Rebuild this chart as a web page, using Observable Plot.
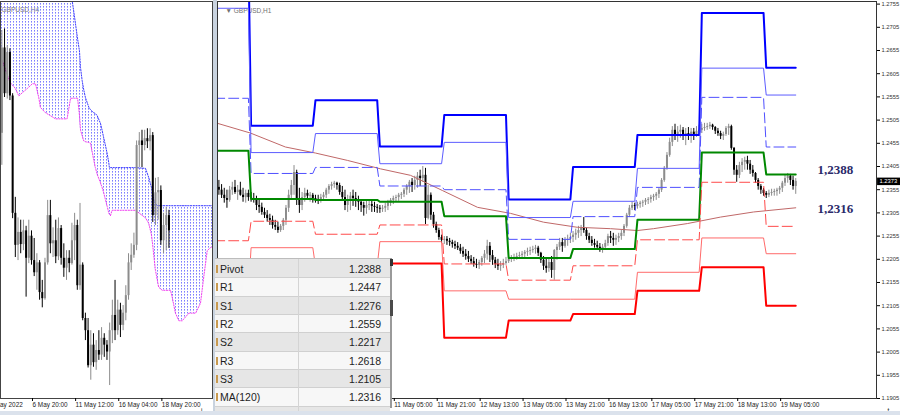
<!DOCTYPE html>
<html><head><meta charset="utf-8">
<script src="https://cdn.jsdelivr.net/npm/d3@7"></script>
<script src="https://cdn.jsdelivr.net/npm/@observablehq/plot@0.6"></script>
<style>
html,body{margin:0;padding:0;background:#fff;}
#wrap{position:relative;width:900px;height:415px;overflow:hidden;font-family:"Liberation Sans",Arial,sans-serif;}
#band{position:absolute;left:213px;top:0;width:4px;height:415px;background:#c9d3df;}
#strip{position:absolute;left:0;top:411px;width:900px;height:4px;background:#dbe2ec;}
#left{position:absolute;left:0;top:0;width:213px;height:415px;}
#right{position:absolute;left:213px;top:0;width:687px;height:415px;}
#tbl{position:absolute;left:215px;top:258px;width:175px;height:157px;background:#e6e6e6;border-top:1px solid #bcbcbc;}
.row{position:absolute;left:0;width:175px;height:18.3px;box-sizing:border-box;border-bottom:1px solid #d0d0d0;font-size:10.5px;color:#1e1e1e;line-height:18px;}
.nm{position:absolute;left:5px;top:0;}
.vl{position:absolute;right:9px;top:0;}
.mk{position:absolute;left:1px;top:5px;width:1.5px;height:8px;background:#c89a50;}
#csep{position:absolute;left:83px;top:0;width:1px;height:157px;background:#d4d4d4;}
#sbar{position:absolute;left:390px;top:258px;width:2px;height:150px;background:#9a9a9a;}
#sthumb{position:absolute;left:390px;top:300px;width:2.5px;height:16px;background:#4a4a4a;}
#stop{position:absolute;left:390px;top:259px;width:3px;height:7px;background:#333;}
</style></head>
<body><div id="wrap"><div id="band"></div><div id="left"></div><div id="right"></div><div id="tbl"></div><div id="sbar"></div><div id="sthumb"></div><div id="stop"></div><div id="strip"></div></div>
<script>
// ---------- H1 pivot levels (daily) ----------
const dayStart = [0,24,48,72,96,120,144,168,192,216];
const dayEnd   = [23,47,71,95,119,143,167,191,215,227];
const R3 = [1.2860,1.2493,1.2548,1.2448,1.2516,1.2334,1.2404,1.2473,1.2736,1.2618];
const R2 = [1.2746,1.2435,1.2476,1.2411,1.2457,1.2295,1.2330,1.2401,1.2617,1.2559];
const R1 = [1.2552,1.2390,1.2403,1.2363,1.2355,1.2248,1.2297,1.2360,1.2554,1.2447];
const PP = [1.2439,1.2335,1.2333,1.2329,1.2298,1.2208,1.2227,1.2290,1.2435,1.2388];
const S1 = [1.2245,1.2287,1.2259,1.2279,1.2195,1.2160,1.2191,1.2247,1.2371,1.2276];
const S2 = [1.2132,1.2230,1.2190,1.2243,1.2137,1.2119,1.2119,1.2177,1.2251,1.2217];
const S3 = [1.1940,1.2187,1.2116,1.2196,1.2036,1.2073,1.2087,1.2137,1.2188,1.2105];
// MA(120)
const maT = [11.5,23.8,36.8,48,60,72.2,83.4,95.4,108.4,120.7,133,145.6,158,168,174,186.6,199,211.3,227];
const maV = [1.2498,1.2477,1.2447,1.2434,1.2418,1.2400,1.2386,1.2353,1.2317,1.2304,1.2285,1.2274,1.2271,1.2267,1.2271,1.2282,1.2296,1.2307,1.2316];
// H1 candles, pips above 1.2000, hours from 6 May 00:00 (trading hours)
const h1Start = 12, h1Open0 = 360;
const h1High = [375,366,358,354,362,371,375,364,371,358,354,354,
349,347,341,336,326,315,310,302,298,289,285,280,
293,321,354,375,407,397,358,349,358,354,349,347,
343,343,345,349,358,366,371,373,371,369,362,354,
343,349,354,349,341,332,328,332,332,330,328,323,
321,321,326,332,336,341,343,347,349,358,366,375,
379,384,392,397,405,401,364,348,306,285,272,257,
254,254,250,246,244,241,237,231,226,222,213,209,
205,203,211,224,246,241,224,209,205,200,205,209,
211,213,216,218,220,222,224,229,231,233,235,233,
220,211,205,207,211,226,237,250,250,252,257,261,
265,270,276,278,295,272,261,254,248,244,239,237,
246,259,265,261,257,261,267,280,304,321,328,326,
328,330,332,336,338,343,345,349,358,379,405,435,
466,491,496,491,494,489,487,489,487,487,491,494,
496,498,498,500,496,491,487,481,479,491,496,494,
446,407,414,422,425,427,418,407,392,379,366,358,
351,354,356,356,358,362,373,386,390,388,384,379];
const h1Low = [343,336,326,315,328,343,345,332,341,328,326,330,
328,326,310,304,300,293,285,278,270,267,261,263,
267,278,306,332,343,321,304,310,328,332,328,326,
326,323,326,332,336,345,354,358,354,343,332,310,
306,310,319,317,310,306,298,302,310,306,306,304,
304,306,306,310,319,323,328,330,334,338,343,347,
349,354,358,362,371,280,290,289,272,261,246,239,
237,235,233,229,226,224,216,209,203,198,194,188,
185,183,190,196,203,198,192,185,181,179,185,192,
196,198,200,203,205,207,209,211,213,218,216,211,
196,181,175,177,164,160,203,224,220,229,233,239,
241,246,250,254,261,246,239,233,229,224,220,218,
224,233,239,233,235,241,246,254,272,295,310,310,
313,315,317,321,323,326,330,332,336,349,371,397,
425,448,461,457,466,461,450,461,455,461,468,470,
476,481,483,485,483,474,470,463,461,470,472,440,
386,371,379,392,397,397,388,382,369,354,345,341,
336,338,341,341,341,345,349,362,369,364,354,345];
const h1Close = [354,343,336,332,354,360,349,354,343,338,347,338,
336,332,321,317,306,300,293,289,278,274,267,276,
289,315,343,364,392,332,321,338,347,341,343,336,
334,332,338,343,354,362,366,369,364,349,338,321,
332,341,336,332,328,321,315,321,323,319,317,315,
313,315,319,326,332,336,338,343,345,354,362,371,
364,375,384,379,386,293,343,300,280,267,252,246,
248,244,241,237,233,229,222,216,211,205,200,194,
192,198,207,216,233,213,203,194,190,192,196,200,
205,207,209,211,213,216,220,222,224,226,229,218,
203,190,185,198,181,224,231,241,233,246,248,252,
257,261,267,272,267,254,246,239,235,231,226,231,
239,254,250,246,250,254,261,276,300,315,321,319,
323,326,328,332,334,338,341,345,354,375,401,429,
457,483,472,479,483,472,476,472,479,474,481,483,
487,489,491,494,489,481,476,470,474,487,491,444,
397,386,407,414,418,410,397,390,375,362,354,347,
343,347,349,351,354,358,369,379,384,375,362,373];
const lastPrice = 1.2373;
const yTicks = [1.1905,1.1955,1.2005,1.2055,1.2105,1.2155,1.2205,1.2255,1.2305,1.2355,1.2405,1.2455,1.2505,1.2555,1.2605,1.2655,1.2705,1.2755];
const xTicksR = [77,93,109,125,141,157,173,189,205,221];
const xLabelsR = ["11 May 05:00","11 May 21:00","12 May 13:00","13 May 05:00","13 May 21:00","16 May 13:00","17 May 05:00","17 May 21:00","18 May 13:00","19 May 05:00"];

// ---------- H4 panel ----------
const h4Start = -11, h4Open0 = 491;
const h4Close = [603,543,597,540,386,344,361,345,363,327,356,
324,308,321,282,274,321,383,346,350,329,366,327,314,327,320,350,370,
291,318,248,232,186,213,190,206,200,222,213,204,232,252,232,
259,239,255,278,321,331,344,475,481,475,484,480,488,383,413,416,350,370,383,363];
const h4High = [626,628,606,602,543,407,380,377,377,369,377,
363,353,333,324,298,327,403,403,367,377,380,370,346,337,337,373,386,
377,399,321,255,248,232,228,219,232,236,228,219,242,272,298,
272,268,265,291,333,346,360,481,492,495,495,497,497,492,432,433,422,386,394,390];
const h4Low = [449,538,536,534,379,328,324,333,337,276,320,
318,303,285,272,262,272,318,333,328,320,324,318,302,298,308,318,324,
285,285,245,219,183,167,184,180,193,193,197,193,160,215,219,
226,223,232,245,272,311,327,337,446,446,468,471,468,374,370,377,344,333,337,340];
const cloudJ = [-12,-10,-8,-6,-4.7,-3.5,-1.5,0.3,1.5,2.7,3.3,5.2,7.1,8.9,13.2,14.5,15.1,16,17.1,17.8,18.2,18.8,19.4,20,21.3,21.9,23.1,23.7,24.4,25.6,26.2,26.8,27.5,28.1,28.7,28.9,29.3,29.9,38.6,42.3,43.5,44.5,44.8,45.4,46,46.6,47.2,48.5,51.6,52.2,53.4,54.7,55.9,58.4,60.9,62.7,63.9,65.2,66.4,68.5];
const cloudUpper = [700,700,700,700,700,700,700,700,700,700,700,700,700,700,700,690,665,643,615,599,577,560,548,538,525,522,518,517,514,504,495,485,474,464,452,446,446,446,446,445,433,420,415,403,399,396,396,396,396,396,396,396,396,396,396,396,396,396,396,396];
const cloudLower = [597,578,558,550,540,544,550,556,556,538,525,518,514,510,510,537,537,537,537,515,495,488,481,480,479,478,456,446,437,426,420,413,403,395,386,385,383,390,390,380,373,358,350,330,311,300,289,285,285,276,255,245,245,255,255,268,302,337,341,344];
const xTicksL = [-16,0,16,32,48];
const xLabelsL = ["4 May 2022","6 May 20:00","11 May 12:00","16 May 04:00","18 May 20:00"];

// ---------- table ----------
const tblNames = ["Pivot","R1","S1","R2","S2","R3","S3","MA(120)"];
const tblValues = [1.2388,1.2447,1.2276,1.2559,1.2217,1.2618,1.2105,1.2316];

// ---------- build ----------
const px = v => 1.2 + v / 10000;
const h1 = h1Close.map((c, i) => ({t: h1Start + i, o: px(i ? h1Close[i-1] : h1Open0), c: px(c), h: px(h1High[i]), l: px(h1Low[i])}));
const h4 = h4Close.map((c, i) => ({j: h4Start + i, o: px(i ? h4Close[i-1] : h4Open0), c: px(c), h: px(h4High[i]), l: px(h4Low[i])}));
const cloud = cloudJ.map((j, i) => ({j, hi: px(cloudUpper[i]), lo: px(cloudLower[i])}));
const ma = maT.map((t, i) => ({t, v: maV[i]}));
const levelPts = vals => vals.flatMap((v, i) => [{t: dayStart[i], v}, {t: dayEnd[i], v}]);
const labR = new Map(xTicksR.map((t, i) => [t, xLabelsR[i]]));
const labL = new Map(xTicksL.map((t, i) => [t, xLabelsL[i]]));
const BULL = "#8c8c8c", BEAR = "#000";
const font = "'Liberation Sans', Arial, sans-serif";

function candleMarks(data, xk) {
  const up = d => d.c >= d.o, dn = d => d.c < d.o;
  return [
    Plot.ruleX(data, {x: xk, y1: "l", y2: "h", stroke: BULL, strokeWidth: 1, filter: up, clip: true}),
    Plot.ruleX(data, {x: xk, y1: "l", y2: "h", stroke: BEAR, strokeWidth: 1, filter: dn, clip: true}),
    Plot.ruleX(data, {x: xk, y1: "o", y2: "c", stroke: BULL, strokeWidth: 2, filter: up, clip: true}),
    Plot.ruleX(data, {x: xk, y1: "o", y2: "c", stroke: BEAR, strokeWidth: 2, filter: dn, clip: true})
  ];
}

function defsMark() {
  const ns = "http://www.w3.org/2000/svg";
  const defs = document.createElementNS(ns, "defs");
  const pat = document.createElementNS(ns, "pattern");
  pat.setAttribute("id", "ichiHatch");
  pat.setAttribute("patternUnits", "userSpaceOnUse");
  pat.setAttribute("width", "3"); pat.setAttribute("height", "3");
  const r = document.createElementNS(ns, "rect");
  r.setAttribute("x", "1"); r.setAttribute("y", "0");
  r.setAttribute("width", "1"); r.setAttribute("height", "1.6");
  r.setAttribute("fill", "#7d7dff");
  pat.appendChild(r); defs.appendChild(pat);
  return defs;
}

const leftPlot = Plot.plot({
  width: 213, height: 415, marginLeft: 0, marginRight: 1, marginTop: 1, marginBottom: 17,
  style: {background: "transparent", fontFamily: font},
  x: {domain: [-11.5, 67.16], axis: null},
  y: {domain: [1.2143, 1.2664], axis: null},
  marks: [
    defsMark,
    Plot.text(["GBPUSD,H4"], {frameAnchor: "top-left", dx: 1, dy: 6, textAnchor: "start", fontSize: 6.5, fill: "#777"}),
    Plot.areaY(cloud, {x: "j", y1: "lo", y2: "hi", fill: "url(#ichiHatch)", clip: true}),
    Plot.line(cloud, {x: "j", y: "hi", stroke: "#3a3aff", strokeWidth: 1, strokeDasharray: "1.3,1.4", clip: true}),
    Plot.line(cloud, {x: "j", y: "lo", stroke: "#f040f0", strokeWidth: 1, strokeDasharray: "1.3,1.4", clip: true}),
    ...candleMarks(h4, "j"),
    Plot.frame({stroke: "#444"}),
    Plot.axisX({ticks: xTicksL, tickFormat: d => labL.get(d), tickSize: 3, tickPadding: 1, textAnchor: "start", dx: 1, fontSize: 6.4, fill: "#222"})
  ]
});
document.getElementById("left").appendChild(leftPlot);

const levels = [
  [R3, "#0000ff", 2, null], [R2, "#5c5cff", 1, null], [R1, "#4f4fff", 1, "10,4"],
  [PP, "#008800", 2, null],
  [S1, "#ff4a4a", 1, "10,4"], [S2, "#ff6a6a", 1, null], [S3, "#ff0000", 2, null]
];

const rightPlot = Plot.plot({
  width: 687, height: 415, marginLeft: 4, marginRight: 24, marginTop: 1, marginBottom: 17,
  style: {background: "transparent", fontFamily: font},
  x: {domain: [11.48, 257.1], axis: null},
  y: {domain: [1.1905, 1.27606], axis: null},
  marks: [
    Plot.text(["\u25BC GBPUSD,H1"], {frameAnchor: "top-left", dx: 8, dy: 6.5, textAnchor: "start", fontSize: 6.5, fill: "#707070"}),
    ...candleMarks(h1, "t"),
    Plot.line(ma, {x: "t", y: "v", stroke: "#c06868", strokeWidth: 1, clip: true}),
    ...levels.map(([vals, col, w, dash]) =>
      Plot.line(levelPts(vals), {x: "t", y: "v", stroke: col, strokeWidth: w, strokeDasharray: dash, clip: true})),
    Plot.frame({stroke: "#333"}),
    Plot.axisY({anchor: "right", ticks: yTicks, tickFormat: d => d.toFixed(4), tickSize: 3, tickPadding: 2, fontSize: 5.8, fill: "#333"}),
    Plot.axisX({ticks: xTicksR, tickFormat: d => labR.get(d), tickSize: 3, tickPadding: 1, textAnchor: "start", dx: 1, fontSize: 6.4, fill: "#222"}),
    Plot.ruleY([lastPrice], {x1: 257.5, x2: 266.2, stroke: "#000", strokeWidth: 7.5}),
    Plot.text([lastPrice], {x: () => 258.2, y: d => d, text: d => d.toFixed(4), textAnchor: "start", fill: "#fff", fontSize: 5.8}),
    Plot.text([PP[PP.length - 1]], {x: () => 241.8, y: d => d, dy: -5, text: d => d.toFixed(4).replace(".", ","), fontFamily: "'Liberation Serif', 'DejaVu Serif', serif", fontWeight: "bold", fontSize: 13, fill: "#2a2a6a"}),
    Plot.text([maV[maV.length - 1]], {x: () => 241.8, y: d => d, dy: 1, text: d => d.toFixed(4).replace(".", ","), fontFamily: "'Liberation Serif', 'DejaVu Serif', serif", fontWeight: "bold", fontSize: 13, fill: "#2a2a6a"})
  ]
});
document.getElementById("right").appendChild(rightPlot);

// table overlay
const tbl = document.getElementById("tbl");
const rowH = 18.33;
tblNames.concat([""]).forEach((nm, i) => {
  const r = document.createElement("div");
  r.className = "row";
  r.style.top = (1 + i * rowH) + "px";
  r.style.background = i % 2 === 0 ? "#e6e6e6" : "#f7f7f7";
  if (nm) {
    r.innerHTML = '<span class="mk"></span><span class="nm">' + nm + '</span><span class="vl">' + tblValues[i].toFixed(4) + '</span>';
  }
  tbl.appendChild(r);
});
const cs = document.createElement("div"); cs.id = "csep"; tbl.appendChild(cs);
</script>
</body></html>
